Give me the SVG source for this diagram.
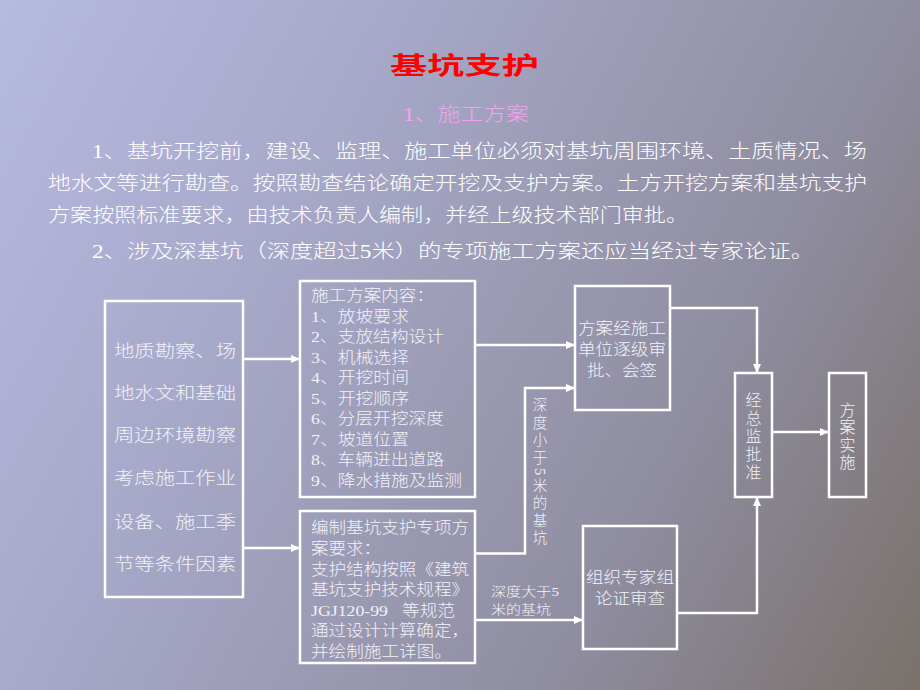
<svg xmlns="http://www.w3.org/2000/svg" width="920" height="690" viewBox="0 0 920 690">
<defs>
<linearGradient id="bg" gradientUnits="userSpaceOnUse" x1="0" y1="0" x2="1000" y2="541">
<stop offset="0" stop-color="#b6badf"/>
<stop offset="0.29" stop-color="#a8aacb"/>
<stop offset="0.71" stop-color="#8f8da0"/>
<stop offset="1" stop-color="#7a716a"/>
</linearGradient>
<marker id="arr" markerUnits="userSpaceOnUse" markerWidth="10" markerHeight="8" refX="9" refY="4" orient="auto">
<path d="M0,0 L9,4 L0,8 Z" fill="#ffffff"/>
</marker>
<style>
text{font-family:"Liberation Serif","Noto Sans CJK SC",serif;font-weight:300;dominant-baseline:central;fill:#f2f2f8}
.title{font-family:"Noto Sans CJK SC",sans-serif;font-weight:bold;font-size:24px;fill:#ff0000}
.sub{font-size:19px;fill:#f2a4ee}
.para{font-size:19px;fill:#ffffff}
.big{font-size:17px}
.mid{font-size:15.5px}
.v{font-size:16px;text-anchor:middle}
.vl{font-size:14.5px;text-anchor:middle}
.lab{font-size:13px}
.box{fill:none;stroke:#ffffff;stroke-width:2.5}
.conn path{fill:none;stroke:#ffffff;stroke-width:2.5}
</style>
</defs>
<rect x="0" y="0" width="920" height="690" fill="url(#bg)"/>

<g id="heading">
<text class="title" x="390" y="63" textLength="149" lengthAdjust="spacingAndGlyphs">基坑支护</text>
<text class="sub" x="403" y="114" textLength="126" lengthAdjust="spacingAndGlyphs">1、施工方案</text>
<text class="para" x="92" y="151" textLength="775" lengthAdjust="spacingAndGlyphs">1、基坑开挖前，建设、监理、施工单位必须对基坑周围环境、土质情况、场</text>
<text class="para" x="48" y="183" textLength="819" lengthAdjust="spacingAndGlyphs">地水文等进行勘查。按照勘查结论确定开挖及支护方案。土方开挖方案和基坑支护</text>
<text class="para" x="48" y="215" textLength="640" lengthAdjust="spacingAndGlyphs">方案按照标准要求，由技术负责人编制，并经上级技术部门审批。</text>
<text class="para" x="92" y="251" textLength="722" lengthAdjust="spacingAndGlyphs">2、涉及深基坑（深度超过5米）的专项施工方案还应当经过专家论证。</text>
</g>

<g id="node-survey">
<rect class="box" x="105" y="301" width="138" height="296"/>
<text class="big" x="114" y="351" textLength="122" lengthAdjust="spacingAndGlyphs">地质勘察、场</text>
<text class="big" x="114" y="393" textLength="122" lengthAdjust="spacingAndGlyphs">地水文和基础</text>
<text class="big" x="114" y="435" textLength="122" lengthAdjust="spacingAndGlyphs">周边环境勘察</text>
<text class="big" x="114" y="478" textLength="122" lengthAdjust="spacingAndGlyphs">考虑施工作业</text>
<text class="big" x="114" y="522" textLength="122" lengthAdjust="spacingAndGlyphs">设备、施工季</text>
<text class="big" x="114" y="564" textLength="122" lengthAdjust="spacingAndGlyphs">节等条件因素</text>
</g>

<g id="node-content">
<rect class="box" x="300" y="281" width="175" height="216"/>
<text class="mid" x="311" y="295" textLength="123" lengthAdjust="spacingAndGlyphs">施工方案内容：</text>
<text class="mid" x="311" y="316" textLength="98" lengthAdjust="spacingAndGlyphs">1、放坡要求</text>
<text class="mid" x="311" y="336.5" textLength="133" lengthAdjust="spacingAndGlyphs">2、支放结构设计</text>
<text class="mid" x="311" y="357" textLength="98" lengthAdjust="spacingAndGlyphs">3、机械选择</text>
<text class="mid" x="311" y="377.5" textLength="98" lengthAdjust="spacingAndGlyphs">4、开挖时间</text>
<text class="mid" x="311" y="398" textLength="98" lengthAdjust="spacingAndGlyphs">5、开挖顺序</text>
<text class="mid" x="311" y="418.5" textLength="133" lengthAdjust="spacingAndGlyphs">6、分层开挖深度</text>
<text class="mid" x="311" y="439" textLength="98" lengthAdjust="spacingAndGlyphs">7、坡道位置</text>
<text class="mid" x="311" y="459.5" textLength="133" lengthAdjust="spacingAndGlyphs">8、车辆进出道路</text>
<text class="mid" x="311" y="480" textLength="151" lengthAdjust="spacingAndGlyphs">9、降水措施及监测</text>
</g>

<g id="node-special">
<rect class="box" x="300" y="511" width="175" height="152"/>
<text class="mid" x="311" y="527.5" textLength="158" lengthAdjust="spacingAndGlyphs">编制基坑支护专项方</text>
<text class="mid" x="311" y="548" textLength="70" lengthAdjust="spacingAndGlyphs">案要求：</text>
<text class="mid" x="311" y="569" textLength="158" lengthAdjust="spacingAndGlyphs">支护结构按照《建筑</text>
<text class="mid" x="311" y="589.5" textLength="158" lengthAdjust="spacingAndGlyphs">基坑支护技术规程》</text>
<text class="mid" x="311" y="610" textLength="77" lengthAdjust="spacingAndGlyphs">JGJ120-99</text>
<text class="mid" x="402" y="610" textLength="53" lengthAdjust="spacingAndGlyphs">等规范</text>
<text class="mid" x="311" y="630.5" textLength="158" lengthAdjust="spacingAndGlyphs">通过设计计算确定，</text>
<text class="mid" x="311" y="651" textLength="141" lengthAdjust="spacingAndGlyphs">并绘制施工详图。</text>
</g>

<g id="node-approve-unit">
<rect class="box" x="575" y="286" width="95" height="124"/>
<text class="mid" x="578" y="328" textLength="88" lengthAdjust="spacingAndGlyphs">方案经施工</text>
<text class="mid" x="578" y="349.5" textLength="88" lengthAdjust="spacingAndGlyphs">单位逐级审</text>
<text class="mid" x="587" y="370" textLength="70" lengthAdjust="spacingAndGlyphs">批、会签</text>
</g>

<g id="node-expert">
<rect class="box" x="583" y="526" width="94" height="123"/>
<text class="mid" x="586" y="577.5" textLength="88" lengthAdjust="spacingAndGlyphs">组织专家组</text>
<text class="mid" x="595" y="598.5" textLength="70" lengthAdjust="spacingAndGlyphs">论证审查</text>
</g>

<g id="node-supervisor">
<rect class="box" x="735" y="373" width="37" height="124"/>
<text class="v" x="753.5" y="400">经</text>
<text class="v" x="753.5" y="418">总</text>
<text class="v" x="753.5" y="436">监</text>
<text class="v" x="753.5" y="454">批</text>
<text class="v" x="753.5" y="472">准</text>
</g>

<g id="node-implement">
<rect class="box" x="829" y="373" width="37" height="124"/>
<text class="v" x="847.5" y="410">方</text>
<text class="v" x="847.5" y="427.5">案</text>
<text class="v" x="847.5" y="445">实</text>
<text class="v" x="847.5" y="462">施</text>
</g>

<g id="connectors" class="conn">
<path d="M243,359 H300" marker-end="url(#arr)"/>
<path d="M243,548 H300" marker-end="url(#arr)"/>
<path d="M475,345 H575" marker-end="url(#arr)"/>
<path d="M475,553.5 H525 V388 H575" marker-end="url(#arr)"/>
<path d="M475,620 H583" marker-end="url(#arr)"/>
<path d="M670,308 H757 V373" marker-end="url(#arr)"/>
<path d="M677,613 H757 V497" marker-end="url(#arr)"/>
<path d="M772,432 H829" marker-end="url(#arr)"/>
</g>

<g id="connector-labels">
<text class="vl" x="540" y="405">深</text>
<text class="vl" x="540" y="422.5">度</text>
<text class="vl" x="540" y="440">小</text>
<text class="vl" x="540" y="457.5">于</text>
<text class="vl" x="540" y="471.5" transform="rotate(90 540 471.5)">5</text>
<text class="vl" x="540" y="485.5">米</text>
<text class="vl" x="540" y="503">的</text>
<text class="vl" x="540" y="520.5">基</text>
<text class="vl" x="540" y="538">坑</text>
<text class="lab" x="491" y="591" textLength="68" lengthAdjust="spacingAndGlyphs">深度大于5</text>
<text class="lab" x="491" y="609" textLength="60" lengthAdjust="spacingAndGlyphs">米的基坑</text>
</g>
</svg>
